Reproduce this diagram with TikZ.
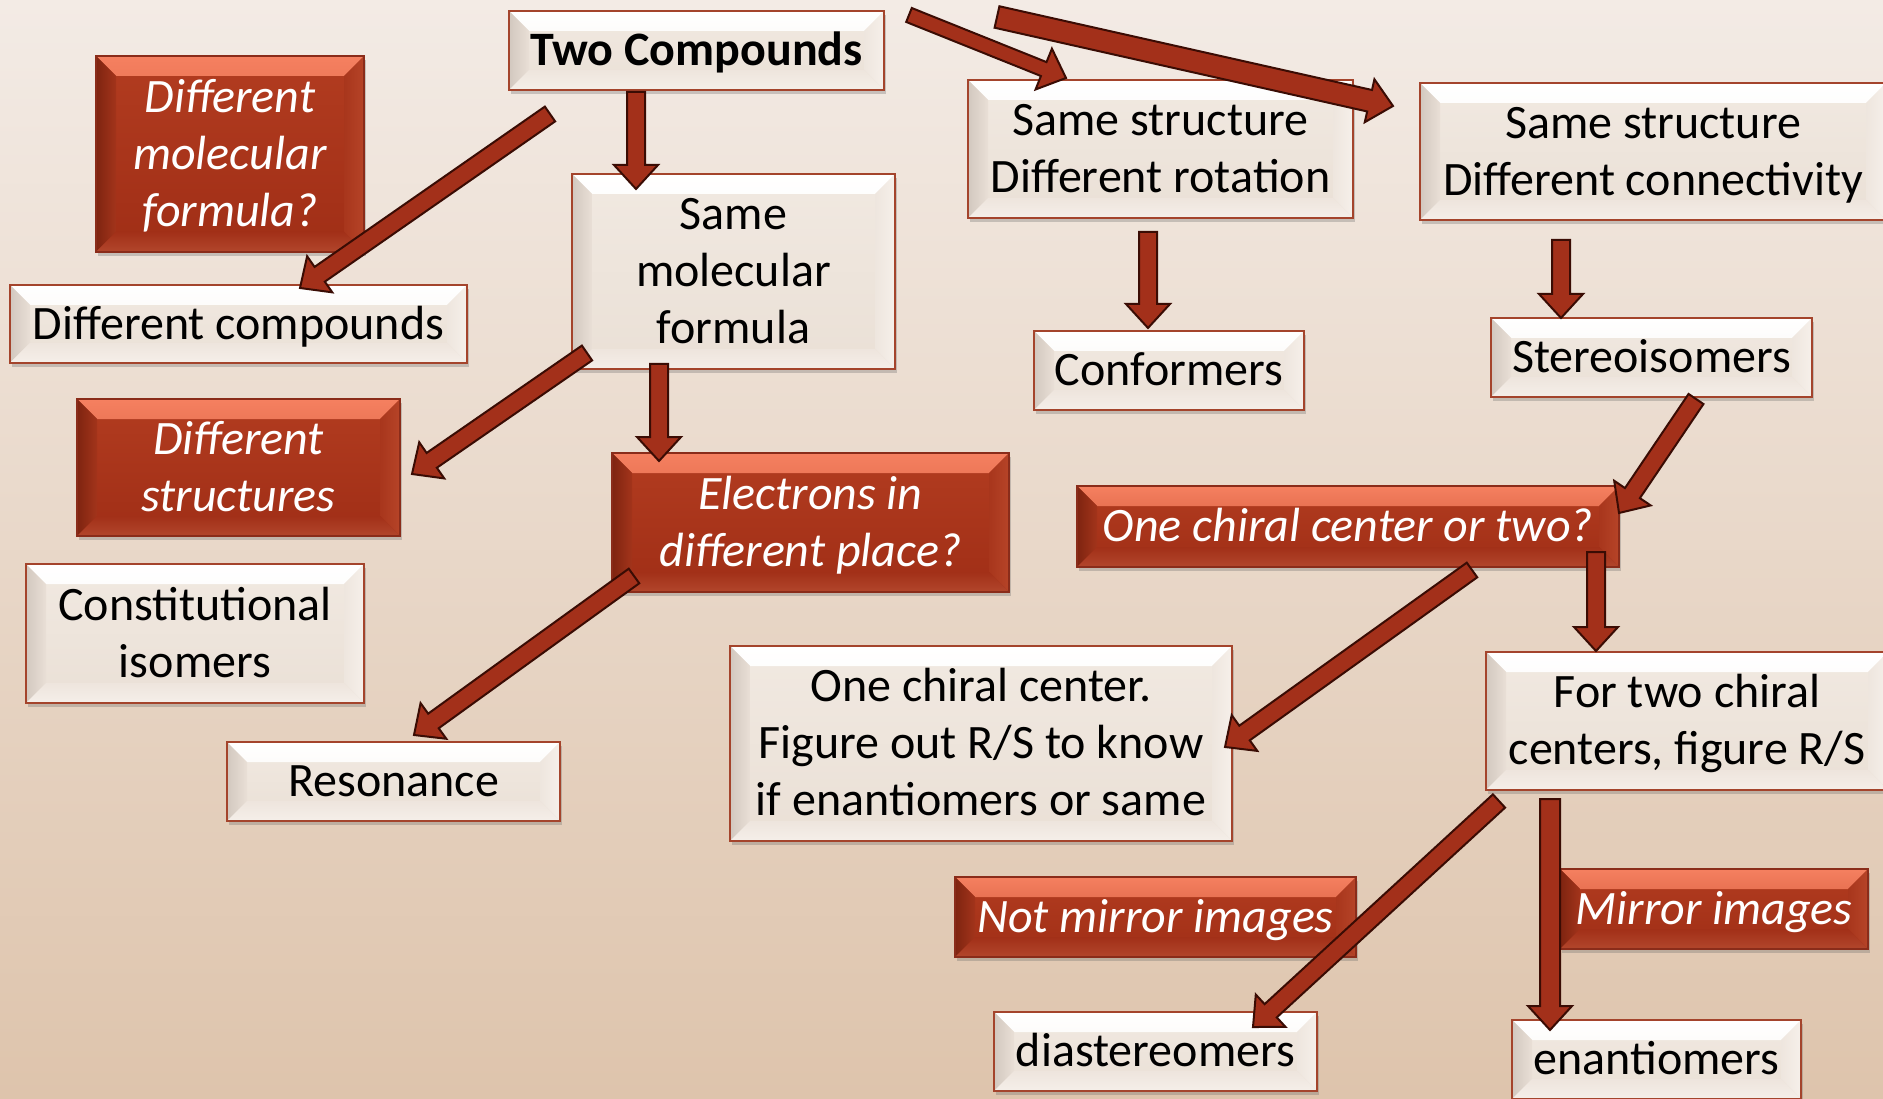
\documentclass[tikz,border=0pt]{standalone}
\usepackage{fontspec}
\setmainfont{Carlito}
\usetikzlibrary{calc,shadows}
\definecolor{bgtop}{HTML}{F3EBE5}
\definecolor{bgmid}{HTML}{E6D3C2}
\definecolor{bgbot}{HTML}{DEC4AC}
\definecolor{boxline}{HTML}{A4442C}
\definecolor{redline}{HTML}{8A2C1A}
\definecolor{arrfill}{HTML}{A3301A}
\definecolor{arrline}{HTML}{3A0C04}
\definecolor{wtopA}{HTML}{FFFFFF}
\definecolor{wtopB}{HTML}{F7F2EE}
\definecolor{wleftA}{HTML}{D2C8BF}
\definecolor{wleftB}{HTML}{E9DFD6}
\definecolor{wrightA}{HTML}{EEE6DE}
\definecolor{wrightB}{HTML}{F6F0EA}
\definecolor{wbotA}{HTML}{EEE5DD}
\definecolor{wbotB}{HTML}{F5EFE9}
\definecolor{winA}{HTML}{F1E9E1}
\definecolor{winB}{HTML}{EAE0D6}
\definecolor{rtopA}{HTML}{F58060}
\definecolor{rtopB}{HTML}{C3482B}
\definecolor{rleftA}{HTML}{7E2410}
\definecolor{rleftB}{HTML}{A3341B}
\definecolor{rrightA}{HTML}{A8361C}
\definecolor{rrightB}{HTML}{B64428}
\definecolor{rbotA}{HTML}{A23018}
\definecolor{rbotB}{HTML}{B2462C}
\definecolor{rinA}{HTML}{B23C20}
\definecolor{rinB}{HTML}{A02E16}
\newlength{\bvw}\setlength{\bvw}{20pt}
\newcommand{\bevelstrips}[4]{%
  \shade[#1] (path picture bounding box.north west) -- (path picture bounding box.north east)
    -- ([xshift=-\bvw,yshift=-\bvw]path picture bounding box.north east)
    -- ([xshift=\bvw,yshift=-\bvw]path picture bounding box.north west) -- cycle;
  \shade[#2] (path picture bounding box.north west) -- ([xshift=\bvw,yshift=-\bvw]path picture bounding box.north west)
    -- ([xshift=\bvw,yshift=\bvw]path picture bounding box.south west)
    -- (path picture bounding box.south west) -- cycle;
  \shade[#3] (path picture bounding box.north east) -- (path picture bounding box.south east)
    -- ([xshift=-\bvw,yshift=\bvw]path picture bounding box.south east)
    -- ([xshift=-\bvw,yshift=-\bvw]path picture bounding box.north east) -- cycle;
  \shade[#4] (path picture bounding box.south west) -- ([xshift=\bvw,yshift=\bvw]path picture bounding box.south west)
    -- ([xshift=-\bvw,yshift=\bvw]path picture bounding box.south east)
    -- (path picture bounding box.south east) -- cycle;
}
\newcommand{\wbevel}{\bevelstrips{top color=wtopA,bottom color=wtopB}{left color=wleftA,right color=wleftB}{left color=wrightA,right color=wrightB}{top color=wbotA,bottom color=wbotB}}
\newcommand{\rbevel}{\bevelstrips{top color=rtopA,bottom color=rtopB}{left color=rleftA,right color=rleftB}{left color=rrightA,right color=rrightB}{top color=rbotA,bottom color=rbotB}}
\newcommand{\ntext}[1]{\raisebox{-20.6pt}{\smash{\begin{tabular}{@{}c@{}}#1\end{tabular}}}}
\newcommand{\barrow}[3][9pt]{%
  \coordinate (bh) at ($(#3)!24pt!(#2)$);
  \filldraw[blockarrow] ($(#2)!#1!90:(#3)$) -- ($(bh)!#1!-90:(#2)$) -- ($(bh)!22pt!-90:(#2)$) -- (#3)
    -- ($(bh)!22pt!90:(#2)$) -- ($(bh)!#1!90:(#2)$) -- ($(#2)!#1!-90:(#3)$) -- cycle;
}
\tikzset{
  basebox/.style={inner sep=0pt, align=center, font=\fontsize{48}{57}\selectfont,
    drop shadow={shadow xshift=2pt, shadow yshift=-4pt, opacity=0.3, fill=black!60}},
  wbox/.style={basebox, draw=boxline, line width=1.8pt, top color=winA, bottom color=winB,
    text=black, path picture={\wbevel}},
  rbox/.style={basebox, draw=redline, line width=1.5pt, top color=rinA,
    bottom color=rinB, text=white, path picture={\rbevel},
    font=\fontsize{48}{57}\selectfont\itshape},
  blockarrow/.style={fill=arrfill, draw=arrline, line width=2pt, line join=miter},
  sz/.style 2 args={minimum width=#1, minimum height=#2}
}
\begin{document}
\begin{tikzpicture}[x=1pt,y=-1pt]
\useasboundingbox (0,0) rectangle (1883,1099);
\shade[top color=bgtop, middle color=bgmid, bottom color=bgbot] (0,0) rectangle (1883,1099);

% red question boxes
\node[rbox, sz={268pt}{196pt}] (dmf) at (230,154) {\ntext{Different\\molecular\\formula?}};
\node[rbox, sz={323pt}{137pt}] (dstr) at (238.5,467.5) {\ntext{Different\\structures}};
\node[rbox, sz={397pt}{139pt}] (elec) at (810.5,522.5) {\ntext{Electrons in\\different place?}};
\node[rbox, sz={542pt}{81pt}] (chir) at (1348,526.5) {\ntext{One chiral center or two?}};
\node[rbox, sz={401pt}{80pt}] (notm) at (1155.5,917) {\ntext{Not mirror images}};
\node[rbox, sz={308pt}{80pt}] (mirr) at (1714,909) {\ntext{Mirror images}};

% white answer boxes
\node[wbox, sz={375pt}{79pt}, font=\fontsize{48}{57}\selectfont\bfseries] (two) at (696.5,50.5) {\ntext{Two Compounds}};
\node[wbox, sz={385pt}{138pt}] (rot) at (1160.5,149) {\ntext{Same structure\\Different rotation}};
\node[wbox, sz={466pt}{137pt}] (conn) at (1653,151.5) {\ntext{Same structure\\Different connectivity}};
\node[wbox, sz={457pt}{78pt}] (diffc) at (238.5,324) {\ntext{Different compounds}};
\node[wbox, sz={323pt}{195pt}] (same) at (733.5,271.5) {\ntext{Same\\molecular\\formula}};
\node[wbox, sz={270pt}{79pt}] (conf) at (1169,370.5) {\ntext{Conformers}};
\node[wbox, sz={321pt}{79pt}] (stereo) at (1651.5,357.5) {\ntext{Stereoisomers}};
\node[wbox, sz={338pt}{139pt}] (const) at (195,633.5) {\ntext{Constitutional\\isomers}};
\node[wbox, sz={502pt}{195pt}] (one) at (981,743.5) {\ntext{One chiral center.\\Figure out R/S to know\\if enantiomers or same}};
\node[wbox, sz={402pt}{138pt}] (twoc) at (1687,721) {\ntext{For two chiral\\centers, figure R/S}};
\node[wbox, sz={333pt}{79pt}] (reson) at (393.5,781.5) {\ntext{Resonance}};
\node[wbox, sz={323pt}{79pt}] (dia) at (1155.5,1051.5) {\ntext{diastereomers}};
\node[wbox, sz={289pt}{79pt}] (enan) at (1656.5,1059.5) {\ntext{enantiomers}};

% arrow end points
\coordinate (a1) at (550,114);  \coordinate (a2) at (300,288);
\coordinate (b1) at (636,92);   \coordinate (b2) at (636,189);
\coordinate (c1) at (909,15);   \coordinate (c2) at (1066,78);
\coordinate (d1) at (997,17);   \coordinate (d2) at (1393,106);
\coordinate (e1) at (587,353);  \coordinate (e2) at (412,474);
\coordinate (f1) at (659,364);  \coordinate (f2) at (659,461);
\coordinate (g1) at (1148,232); \coordinate (g2) at (1148,328);
\coordinate (h1) at (1561,240); \coordinate (h2) at (1561,318);
\coordinate (i1) at (1696,399); \coordinate (i2) at (1619,513);
\coordinate (j1) at (634,576);  \coordinate (j2) at (414,735);
\coordinate (k1) at (1472,570); \coordinate (k2) at (1225,747);
\coordinate (l1) at (1596,552); \coordinate (l2) at (1596,651);
\coordinate (m1) at (1499,801); \coordinate (m2) at (1253,1027);
\coordinate (n1) at (1550,799); \coordinate (n2) at (1550,1030);

\barrow{a1}{a2}
\barrow{b1}{b2}
\barrow[7.5pt]{c1}{c2}
\barrow[11pt]{d1}{d2}
\barrow{e1}{e2}
\barrow{f1}{f2}
\barrow{g1}{g2}
\barrow{h1}{h2}
\barrow{i1}{i2}
\barrow{j1}{j2}
\barrow{k1}{k2}
\barrow{l1}{l2}
\barrow{m1}{m2}
\barrow[10pt]{n1}{n2}
\end{tikzpicture}
\end{document}
